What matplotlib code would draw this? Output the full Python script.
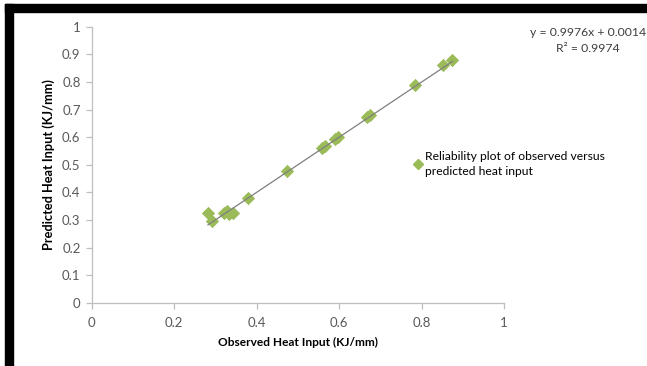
import matplotlib
matplotlib.use("Agg")
import matplotlib.pyplot as plt
from matplotlib.patches import Rectangle
from matplotlib.lines import Line2D

observed = [0.282, 0.291, 0.320, 0.328, 0.333, 0.343, 0.378, 0.473, 0.558, 0.566,
            0.590, 0.598, 0.668, 0.675, 0.784, 0.852, 0.875]
predicted = [0.325, 0.297, 0.325, 0.333, 0.322, 0.325, 0.381, 0.477, 0.562, 0.568,
             0.594, 0.600, 0.673, 0.679, 0.788, 0.861, 0.879]
slope = 0.9976
intercept = 0.0014
xticks = [0, 0.2, 0.4, 0.6, 0.8, 1]
yticks = [0, 0.1, 0.2, 0.3, 0.4, 0.5, 0.6, 0.7, 0.8, 0.9, 1]

plt.rcParams['font.family'] = ['Lato', 'DejaVu Sans']

fig = plt.figure(figsize=(6.47, 3.66), dpi=100)
W, H = 647, 366
# black frame (top and left edges)
fig.patches.append(Rectangle((5 / W, 0), 8 / W, 1 - 4 / H, transform=fig.transFigure,
                             color='black', zorder=0))
fig.patches.append(Rectangle((5 / W, 1 - 12 / H), 1, 8 / H, transform=fig.transFigure,
                             color='black', zorder=0))

ax = fig.add_axes([91.7 / W, 1 - 303 / H, (504 - 91.7) / W, (303 - 26.7) / H])
ax.set_xlim(0, 1)
ax.set_ylim(0, 1)
ax.set_facecolor('none')

green = '#9BBB59'
ax.scatter(observed, predicted, marker='D', s=46, color=green, zorder=3, linewidths=0)
xmin, xmax = min(observed), max(observed)
ax.plot([xmin, xmax], [slope * xmin + intercept, slope * xmax + intercept],
        color='#7f7f7f', lw=0.9, zorder=4)

for s in ['top', 'right']:
    ax.spines[s].set_visible(False)
for s in ['left', 'bottom']:
    ax.spines[s].set_color('#bfbfbf')
    ax.spines[s].set_linewidth(0.9)
ax.set_xticks(xticks)
ax.set_yticks(yticks)
ax.set_xticklabels(['0', '0.2', '0.4', '0.6', '0.8', '1'])
ax.set_yticklabels(['0', '0.1', '0.2', '0.3', '0.4', '0.5', '0.6', '0.7', '0.8', '0.9', '1'])
ax.tick_params(axis='both', colors='#bfbfbf', labelcolor='#595959', labelsize=9.5,
               length=4, width=0.9)
ax.tick_params(axis='x', pad=6)
ax.tick_params(axis='y', pad=4)
ax.set_xlabel('Observed Heat Input (KJ/mm)', fontsize=8.6, fontweight='bold', labelpad=6)
ax.set_ylabel('Predicted Heat Input (KJ/mm)', fontsize=9.2, fontweight='bold', labelpad=5)

fig.text(588 / W, 1 - 33 / H, f'y = {slope}x + {intercept}', ha='center', va='center',
         fontsize=8.8, color='#404040')
fig.text(588 / W, 1 - 48 / H, 'R² = 0.9974', ha='center', va='center',
         fontsize=8.8, color='#404040')

h = Line2D([], [], marker='D', color=green, ls='none', markersize=5)
leg = fig.legend([h], ['Reliability plot of observed versus\npredicted heat input'],
                 loc='upper left', bbox_to_anchor=(408 / W, 1 - 146 / H), frameon=False,
                 fontsize=8.7, handlelength=0.8, handletextpad=0.2, borderaxespad=0)
leg.get_texts()[0].set_linespacing(1.45)

fig.savefig('out.png', dpi=100)
